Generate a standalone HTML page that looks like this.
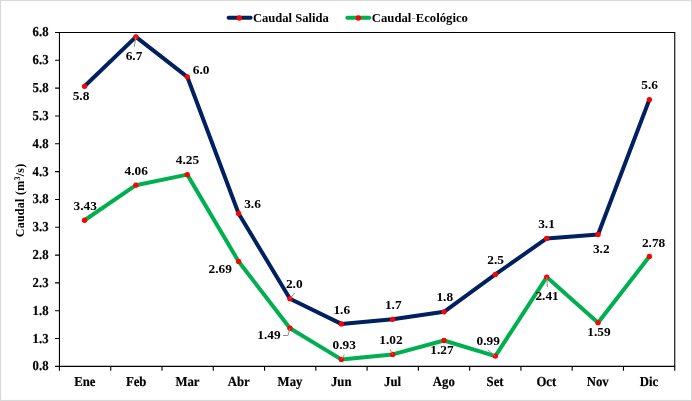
<!DOCTYPE html>
<html lang="es">
<head>
<meta charset="utf-8">
<title>Caudal Salida y Caudal Ecológico</title>
<style>
html,body{margin:0;padding:0;background:#fff;}
body{width:692px;height:401px;overflow:hidden;}
svg{display:block;}
text{font-family:"Liberation Serif","Times New Roman",serif;font-weight:bold;font-size:13.33px;fill:#000;}
.t{text-anchor:middle;}
.yl{text-anchor:end;}
.al{font-size:13.7px;text-rendering:geometricPrecision;stroke:#000;stroke-width:0.2px;}
.ax{stroke:#000;stroke-width:1.1;fill:none;}
.ld{stroke:#8c8c8c;stroke-width:1;fill:none;}
.s1{stroke:#002060;stroke-width:4.0;fill:none;stroke-linejoin:round;stroke-linecap:round;}
.s2{stroke:#00b050;stroke-width:4.0;fill:none;stroke-linejoin:round;stroke-linecap:round;}
.m{fill:#ff0000;}
</style>
</head>
<body>
<svg width="692" height="401" viewBox="0 0 692 401">
<rect x="0" y="0" width="692" height="401" fill="#ffffff"/>
<rect x="0.5" y="0.5" width="691" height="400" fill="none" stroke="#d9d9d9" stroke-width="1.2"/>
<path class="ax" d="M59.45 32.46H674.75V366.4H59.45Z"/>
<path class="ax" d="M55.05 32.46H59.45M55.05 60.29H59.45M55.05 88.12H59.45M55.05 115.94H59.45M55.05 143.77H59.45M55.05 171.60H59.45M55.05 199.43H59.45M55.05 227.26H59.45M55.05 255.09H59.45M55.05 282.91H59.45M55.05 310.74H59.45M55.05 338.57H59.45M55.05 366.40H59.45M59.45 366.4V370.80M110.72 366.4V370.80M162.00 366.4V370.80M213.27 366.4V370.80M264.55 366.4V370.80M315.82 366.4V370.80M367.10 366.4V370.80M418.38 366.4V370.80M469.65 366.4V370.80M520.92 366.4V370.80M572.20 366.4V370.80M623.48 366.4V370.80M674.75 366.4V370.80"/>
<text class="yl al" transform="translate(48.5 36.46) scale(0.93 1)">6.8</text>
<text class="yl al" transform="translate(48.5 64.29) scale(0.93 1)">6.3</text>
<text class="yl al" transform="translate(48.5 92.12) scale(0.93 1)">5.8</text>
<text class="yl al" transform="translate(48.5 119.94) scale(0.93 1)">5.3</text>
<text class="yl al" transform="translate(48.5 147.77) scale(0.93 1)">4.8</text>
<text class="yl al" transform="translate(48.5 175.60) scale(0.93 1)">4.3</text>
<text class="yl al" transform="translate(48.5 203.43) scale(0.93 1)">3.8</text>
<text class="yl al" transform="translate(48.5 231.26) scale(0.93 1)">3.3</text>
<text class="yl al" transform="translate(48.5 259.09) scale(0.93 1)">2.8</text>
<text class="yl al" transform="translate(48.5 286.91) scale(0.93 1)">2.3</text>
<text class="yl al" transform="translate(48.5 314.74) scale(0.93 1)">1.8</text>
<text class="yl al" transform="translate(48.5 342.57) scale(0.93 1)">1.3</text>
<text class="yl al" transform="translate(48.5 370.40) scale(0.93 1)">0.8</text>
<text class="t al" transform="translate(84.89 385.5) scale(0.93 1)">Ene</text>
<text class="t al" transform="translate(136.16 385.5) scale(0.93 1)">Feb</text>
<text class="t al" transform="translate(187.44 385.5) scale(0.93 1)">Mar</text>
<text class="t al" transform="translate(238.71 385.5) scale(0.93 1)">Abr</text>
<text class="t al" transform="translate(289.99 385.5) scale(0.93 1)">May</text>
<text class="t al" transform="translate(341.26 385.5) scale(0.93 1)">Jun</text>
<text class="t al" transform="translate(392.54 385.5) scale(0.93 1)">Jul</text>
<text class="t al" transform="translate(443.81 385.5) scale(0.93 1)">Ago</text>
<text class="t al" transform="translate(495.09 385.5) scale(0.93 1)">Set</text>
<text class="t al" transform="translate(546.36 385.5) scale(0.93 1)">Oct</text>
<text class="t al" transform="translate(597.64 385.5) scale(0.93 1)">Nov</text>
<text class="t al" transform="translate(648.91 385.5) scale(0.93 1)">Dic</text>
<text class="t" transform="translate(23.9 200.5) rotate(-90)" style="font-size:12px" textLength="73.6" lengthAdjust="spacing">Caudal (m<tspan dy="-4" style="font-size:8px">3</tspan><tspan dy="4">/s)</tspan></text>
<path class="s2" d="M84.55 220.27L135.90 185.21L187.25 174.63L238.60 261.46L289.95 328.25L341.30 359.41L392.65 354.41L444.00 340.49L495.35 356.08L546.70 277.04L598.05 322.68L649.40 256.45"/>
<path class="s1" d="M84.55 86.30L135.90 36.90L187.25 76.80L238.60 213.50L289.95 298.70L341.30 323.90L392.65 319.30L444.00 311.80L495.35 274.40L546.70 238.40L598.05 234.50L649.40 99.55"/>
<circle class="m" cx="84.55" cy="220.27" r="2.65"/><circle class="m" cx="135.90" cy="185.21" r="2.65"/><circle class="m" cx="187.25" cy="174.63" r="2.65"/><circle class="m" cx="238.60" cy="261.46" r="2.65"/><circle class="m" cx="289.95" cy="328.25" r="2.65"/><circle class="m" cx="341.30" cy="359.41" r="2.65"/><circle class="m" cx="392.65" cy="354.41" r="2.65"/><circle class="m" cx="444.00" cy="340.49" r="2.65"/><circle class="m" cx="495.35" cy="356.08" r="2.65"/><circle class="m" cx="546.70" cy="277.04" r="2.65"/><circle class="m" cx="598.05" cy="322.68" r="2.65"/><circle class="m" cx="649.40" cy="256.45" r="2.65"/>
<circle class="m" cx="84.55" cy="86.30" r="2.65"/><circle class="m" cx="135.90" cy="36.90" r="2.65"/><circle class="m" cx="187.25" cy="76.80" r="2.65"/><circle class="m" cx="238.60" cy="213.50" r="2.65"/><circle class="m" cx="289.95" cy="298.70" r="2.65"/><circle class="m" cx="341.30" cy="323.90" r="2.65"/><circle class="m" cx="392.65" cy="319.30" r="2.65"/><circle class="m" cx="444.00" cy="311.80" r="2.65"/><circle class="m" cx="495.35" cy="274.40" r="2.65"/><circle class="m" cx="546.70" cy="238.40" r="2.65"/><circle class="m" cx="598.05" cy="234.50" r="2.65"/><circle class="m" cx="649.40" cy="99.55" r="2.65"/>
<path class="ld" d="M135.90 36.90L134.3 46.8M294.6 293L289.95 298.70M283 335.5H288L289.95 328.25M344.5 354.5L341.30 359.41M390 349.25L392.65 354.41M488 350L495.35 356.08M546.70 277.04L547.5 287"/>
<text class="t" x="81" y="100">5.8</text>
<text class="t" x="134" y="60">6.7</text>
<text class="t" x="201.1" y="74.2">6.0</text>
<text class="t" x="252.5" y="208">3.6</text>
<text class="t" x="294.3" y="287.9">2.0</text>
<text class="t" x="341.8" y="313.8">1.6</text>
<text class="t" x="393.3" y="308.8">1.7</text>
<text class="t" x="444.75" y="301.3">1.8</text>
<text class="t" x="495.6" y="264">2.5</text>
<text class="t" x="546.5" y="227.75">3.1</text>
<text class="t" x="601.25" y="252.9">3.2</text>
<text class="t" x="649.6" y="88.8">5.6</text>
<text class="t" x="85.25" y="209.5">3.43</text>
<text class="t" x="136.2" y="174.8">4.06</text>
<text class="t" x="187.5" y="163.7">4.25</text>
<text class="t" x="220.25" y="273">2.69</text>
<text class="t" x="269" y="338.75">1.49</text>
<text class="t" x="344.25" y="349.25">0.93</text>
<text class="t" x="390.9" y="344.25">1.02</text>
<text class="t" x="441.9" y="353.8">1.27</text>
<text class="t" x="488.25" y="345.1">0.99</text>
<text class="t" x="547.1" y="300.2">2.41</text>
<text class="t" x="599" y="336.25">1.59</text>
<text class="t" x="653.6" y="247.25">2.78</text>
<path class="s1" d="M228.6 17.8H250.6"/><circle class="m" cx="239.3" cy="17.9" r="2.75"/>
<text x="252.9" y="22" textLength="75.9" lengthAdjust="spacingAndGlyphs">Caudal Salida</text>
<path class="s2" d="M347.3 17.8H369.3"/><circle class="m" cx="358.3" cy="17.9" r="2.75"/>
<text x="371.8" y="22" textLength="96.2" lengthAdjust="spacingAndGlyphs">Caudal<tspan style="font-weight:normal;fill:#999">-</tspan>Ecológico</text>
</svg>
</body>
</html>
